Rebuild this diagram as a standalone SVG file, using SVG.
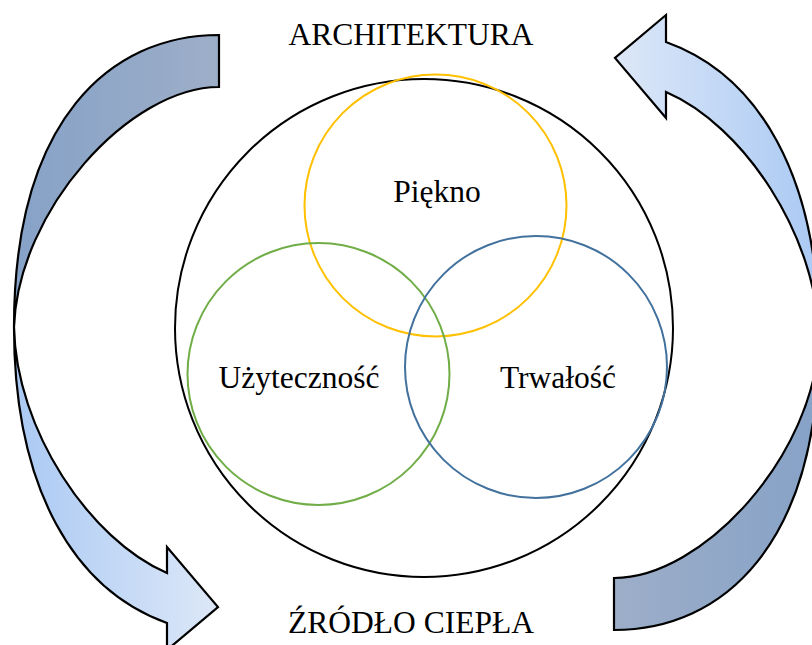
<svg xmlns="http://www.w3.org/2000/svg" xmlns:xlink="http://www.w3.org/1999/xlink" width="812" height="645" viewBox="0 0 812 645">
<style>
.arrow{stroke:#000;stroke-width:2.2;stroke-linejoin:miter}
.big{fill:none;stroke:#000;stroke-width:2}
.c{fill:none;stroke-width:2}
.t{font-family:"Liberation Serif","Times New Roman",serif;font-size:31.5px;fill:#000;text-anchor:middle}
</style>
<defs>
<linearGradient id="back" gradientUnits="userSpaceOnUse" x1="14" y1="0" x2="219" y2="0">
<stop offset="0" stop-color="#86a2c7"/><stop offset="1" stop-color="#9daec8"/>
</linearGradient>
<linearGradient id="front" gradientUnits="userSpaceOnUse" x1="14" y1="0" x2="219" y2="0">
<stop offset="0" stop-color="#aac9f3"/><stop offset="1" stop-color="#dde8f8"/>
</linearGradient>
<g id="curvedArrow">
<path class="arrow" fill="url(#back)" d="M219,35 C110,35 14,120 14,327 C18,210 130,87 219,87 Z"/>
<path class="arrow" fill="url(#front)" d="M14,327 C14,490 75,590 167,623 L167,650 L218,607 L167,547 L167,573 C90,540 16,430 14,327 Z"/>
</g>
</defs>
<g id="arrows">
<use id="arrow-left" xlink:href="#curvedArrow"/>
<use id="arrow-right" xlink:href="#curvedArrow" transform="rotate(180 416.5 332.5)"/>
</g>
<g id="outer-circle"><circle class="big" cx="424" cy="328" r="249"/></g>
<g id="piekno"><circle class="c" stroke="#ffc000" cx="435.5" cy="205.5" r="131"/><text class="t" x="437" y="202">Piękno</text></g>
<g id="uzytecznosc"><circle class="c" stroke="#70ad47" cx="318.5" cy="374" r="131"/><text class="t" x="299" y="388">Użyteczność</text></g>
<g id="trwalosc"><circle class="c" stroke="#41719c" cx="536" cy="367" r="131"/><text class="t" x="558" y="388">Trwałość</text></g>
<g id="architektura"><text class="t" x="411" y="45">ARCHITEKTURA</text></g>
<g id="zrodlo"><text class="t" x="411" y="633">ŹRÓDŁO CIEPŁA</text></g>
</svg>
